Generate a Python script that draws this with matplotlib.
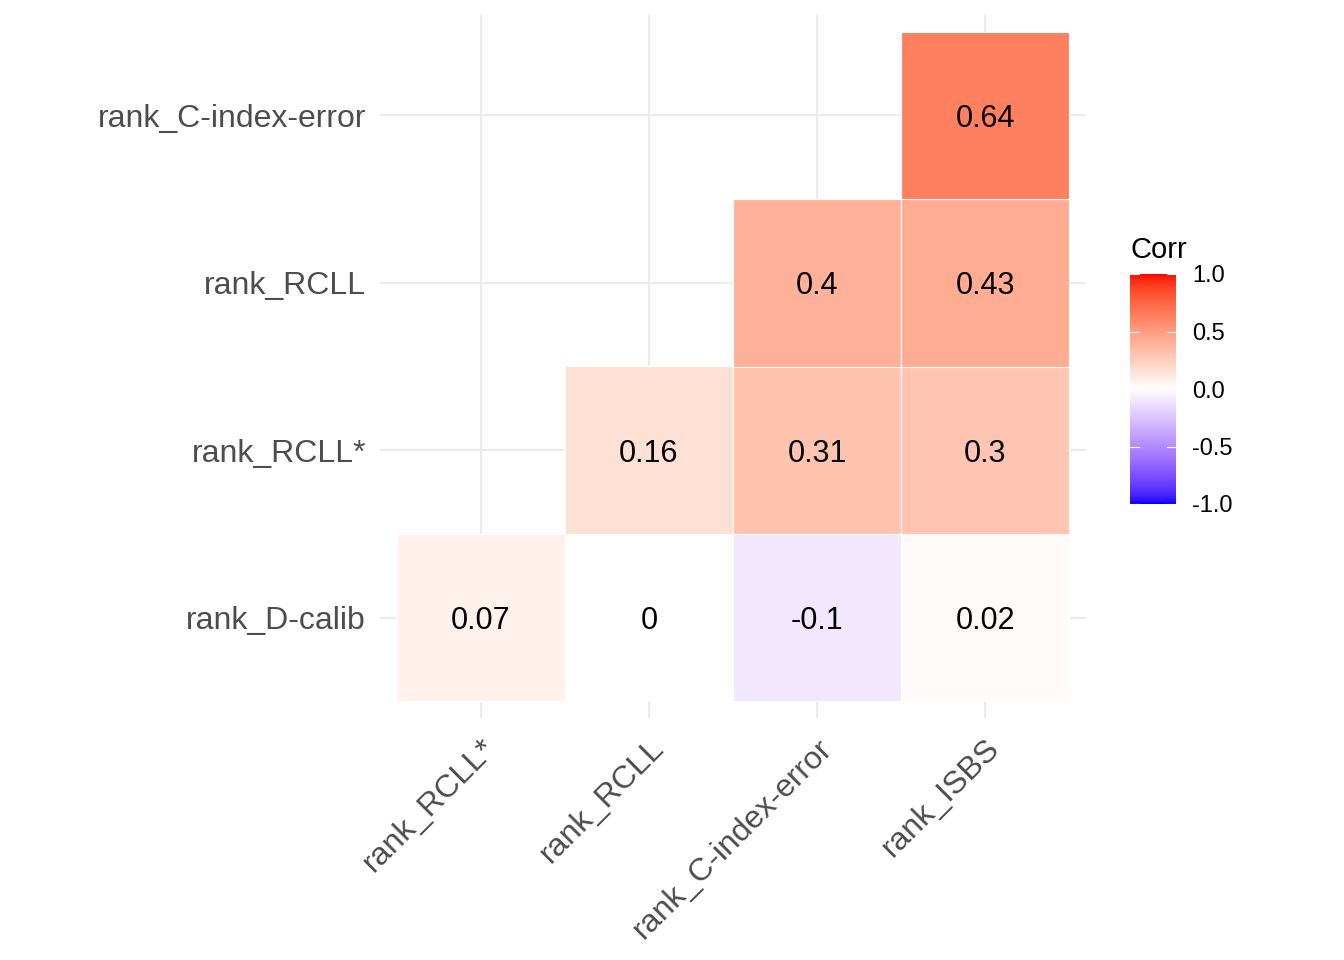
"""
Lower-triangle correlation heatmap of metric ranks (ggcorrplot look).
"""
import numpy as np
import matplotlib
matplotlib.use("Agg")
import matplotlib.pyplot as plt
from matplotlib.colors import ListedColormap

col_labels = ["rank_RCLL*", "rank_RCLL", "rank_C-index-error", "rank_ISBS"]
row_labels = ["rank_D-calib", "rank_RCLL*", "rank_RCLL", "rank_C-index-error"]  # bottom -> top
corr_d_calib = [0.07, 0.0, -0.1, 0.02]
corr_rcll_star = [np.nan, 0.16, 0.31, 0.3]
corr_rcll = [np.nan, np.nan, 0.4, 0.43]
corr_cindex = [np.nan, np.nan, np.nan, 0.64]
legend_ticks = [-1.0, -0.5, 0.0, 0.5, 1.0]


## colour helpers: ggplot interpolates gradients in Lab space
def srgb_to_lab(rgb):
    rgb = np.asarray(rgb, dtype=float)
    lin = np.where(rgb <= 0.04045, rgb / 12.92, ((rgb + 0.055) / 1.055) ** 2.4)
    M = np.array([[0.4124, 0.3576, 0.1805],
                  [0.2126, 0.7152, 0.0722],
                  [0.0193, 0.1192, 0.9505]])
    xyz = lin @ M.T / np.array([0.95047, 1.0, 1.08883])
    f = np.where(xyz > 0.008856, np.cbrt(xyz), 7.787 * xyz + 16 / 116)
    L = 116 * f[..., 1] - 16
    a = 500 * (f[..., 0] - f[..., 1])
    b = 200 * (f[..., 1] - f[..., 2])
    return np.stack([L, a, b], axis=-1)


def lab_to_srgb(lab):
    lab = np.asarray(lab, dtype=float)
    fy = (lab[..., 0] + 16) / 116
    fx = fy + lab[..., 1] / 500
    fz = fy - lab[..., 2] / 200
    f = np.stack([fx, fy, fz], axis=-1)
    xyz = np.where(f ** 3 > 0.008856, f ** 3, (f - 16 / 116) / 7.787)
    xyz = xyz * np.array([0.95047, 1.0, 1.08883])
    Minv = np.array([[3.2406, -1.5372, -0.4986],
                     [-0.9689, 1.8758, 0.0415],
                     [0.0557, -0.2040, 1.0570]])
    lin = xyz @ Minv.T
    lin = np.clip(lin, 0, 1)
    rgb = np.where(lin <= 0.0031308, 12.92 * lin, 1.055 * lin ** (1 / 2.4) - 0.055)
    return np.clip(rgb, 0, 1)


lab_blue = srgb_to_lab([0, 0, 1])
lab_white = srgb_to_lab([1, 1, 1])
lab_red = srgb_to_lab([1, 0, 0])
t = np.linspace(0, 1, 256)[:, None]
half1 = lab_blue + (lab_white - lab_blue) * t
half2 = lab_white + (lab_red - lab_white) * t
cmap = ListedColormap(lab_to_srgb(np.vstack([half1, half2[1:]])))

corr = np.array([corr_d_calib, corr_rcll_star, corr_rcll, corr_cindex])

W, H = 1344, 960
fig = plt.figure(figsize=(W / 100, H / 100), dpi=100)
ax = fig.add_axes([380 / W, 1 - 718 / H, 706 / W, 703 / H])

grid_col = "#EBEBEB"
for i in range(4):
    ax.axvline(i, color=grid_col, lw=1.5, zorder=0)
    ax.axhline(i, color=grid_col, lw=1.5, zorder=0)

for r in range(corr.shape[0]):
    for c in range(corr.shape[1]):
        v = corr[r, c]
        if np.isnan(v):
            continue
        ax.add_patch(plt.Rectangle((c - 0.5, r - 0.5), 1, 1,
                                   facecolor=cmap((v + 1) / 2),
                                   edgecolor="white", lw=0.8, zorder=2))
        ax.text(c, r, f"{v:g}", ha="center", va="center_baseline",
                fontsize=22, family="Liberation Sans", color="black", zorder=3)

ax.set_xlim(-0.6, 3.6)
ax.set_ylim(-0.6, 3.6)
for s in ax.spines.values():
    s.set_visible(False)
ax.set_xticks(range(4))
ax.set_yticks(range(4))
ax.set_xticklabels(col_labels, rotation=45, ha="right", va="top",
                   rotation_mode="anchor", fontsize=23,
                   family="Liberation Sans", color="#4D4D4D")
ax.set_yticklabels(row_labels, fontsize=23, family="Liberation Sans",
                   color="#4D4D4D")
ax.tick_params(length=0, pad=10)
ax.tick_params(axis="x", pad=11)

## colourbar legend
cax = fig.add_axes([1130 / W, 1 - 504 / H, 46 / W, 230 / H])
grad = np.linspace(-1, 1, 300)[:, None]
cax.imshow(grad, aspect="auto", cmap=cmap, origin="lower",
           extent=[0, 1, -1, 1], vmin=-1, vmax=1)
cax.set_xlim(0, 1)
cax.set_ylim(-1, 1)
for s in cax.spines.values():
    s.set_visible(False)
cax.set_xticks([])
cax.set_yticks([])
for v in legend_ticks:
    cax.plot([0, 0.2], [v, v], color="white", lw=0.8)
    cax.plot([0.8, 1], [v, v], color="white", lw=0.8)
    cax.text(1.35, v, f"{v:.1f}", ha="left", va="center_baseline", fontsize=17,
             family="Liberation Sans", color="black", transform=cax.transData,
             clip_on=False)
fig.text(1130 / W, 1 - 247 / H, "Corr", ha="left", va="center_baseline",
         fontsize=21, family="Liberation Sans", color="black")

fig.savefig("out.png", dpi=100, facecolor="white")
